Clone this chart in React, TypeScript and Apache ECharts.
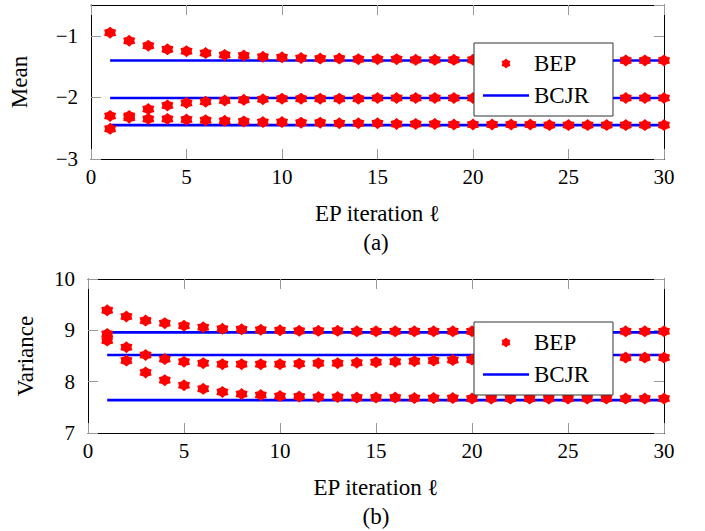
import React, { useEffect, useRef } from "react";
import * as echarts from "echarts";

// ---- data ----
const iterations = [1, 2, 3, 4, 5, 6, 7, 8, 9, 10, 11, 12, 13, 14, 15, 16, 17, 18, 19, 20, 21, 22, 23, 24, 25, 26, 27, 28, 29, 30];

const meanBepA = [-0.95, -1.08, -1.16, -1.22, -1.25, -1.28, -1.31, -1.32, -1.34, -1.35, -1.36, -1.37, -1.37, -1.38, -1.38, -1.38, -1.39, -1.39, -1.39, -1.39, -1.39, -1.39, -1.40, -1.40, -1.40, -1.40, -1.40, -1.40, -1.40, -1.40];
const meanBepB = [-2.30, -2.30, -2.19, -2.13, -2.09, -2.07, -2.05, -2.04, -2.03, -2.02, -2.02, -2.02, -2.02, -2.02, -2.01, -2.01, -2.01, -2.01, -2.01, -2.01, -2.01, -2.01, -2.01, -2.01, -2.01, -2.01, -2.01, -2.01, -2.01, -2.01];
const meanBepC = [-2.51, -2.33, -2.35, -2.35, -2.36, -2.37, -2.38, -2.39, -2.40, -2.40, -2.41, -2.41, -2.42, -2.42, -2.42, -2.43, -2.43, -2.43, -2.44, -2.44, -2.44, -2.44, -2.44, -2.45, -2.45, -2.45, -2.45, -2.45, -2.45, -2.45];
const meanBcjr = [-1.40, -2.01, -2.45];

const varBepA = [9.39, 9.27, 9.19, 9.14, 9.09, 9.06, 9.03, 9.02, 9.01, 9.00, 8.99, 8.99, 8.99, 8.98, 8.98, 8.98, 8.98, 8.98, 8.98, 8.98, 8.98, 8.98, 8.98, 8.98, 8.98, 8.98, 8.98, 8.98, 8.98, 8.98];
const varBepB = [8.93, 8.67, 8.52, 8.44, 8.39, 8.36, 8.34, 8.34, 8.34, 8.34, 8.35, 8.36, 8.36, 8.37, 8.38, 8.39, 8.40, 8.41, 8.42, 8.43, 8.44, 8.44, 8.45, 8.45, 8.46, 8.46, 8.46, 8.47, 8.47, 8.47];
const varBepC = [8.80, 8.41, 8.18, 8.03, 7.93, 7.86, 7.80, 7.76, 7.74, 7.72, 7.71, 7.70, 7.70, 7.69, 7.69, 7.69, 7.68, 7.68, 7.68, 7.67, 7.67, 7.67, 7.67, 7.67, 7.67, 7.67, 7.67, 7.67, 7.67, 7.67];
const varBcjr = [8.96, 8.52, 7.64];

const xTicks = { min: 0, max: 30, interval: 5 };
const meanTicks = { min: -3, max: -0.5, interval: 1 };
const varTicks = { min: 7, max: 10, interval: 1 };

const FONT = "Liberation Serif";

function asteriskPath(): string {
  const n = 6;
  let d = "";
  for (let i = 0; i < 2 * n; i++) {
    const a = ((-90 + (i * 180) / n) * Math.PI) / 180;
    const r = i % 2 === 0 ? 10 : 7.4;
    const x = 10 + r * Math.cos(a);
    const y = 10 + r * Math.sin(a);
    d += (i === 0 ? "M" : "L") + x.toFixed(2) + " " + y.toFixed(2) + " ";
  }
  return "path://" + d + "Z";
}

export default function App() {
  const ref = useRef<HTMLDivElement>(null);
  useEffect(() => {
    if (!ref.current) return;
    const chart = echarts.init(ref.current, undefined, { renderer: "svg" });
    const star = asteriskPath();

    const xAxis = (gridIndex: number, position: "bottom" | "top", main: boolean) => ({
      type: "value" as const,
      gridIndex,
      position,
      ...xTicks,
      axisLine: { show: true, onZero: false, lineStyle: { color: "#000", width: 1 } },
      axisTick: { show: true, inside: true, length: 10, lineStyle: { color: "#999", width: 1 } },
      axisLabel: { show: main, margin: 7, fontSize: 21, fontFamily: FONT, color: "#000" },
      splitLine: { show: false },
      name: main ? "EP iteration \u2113" : "",
      nameLocation: "middle" as const,
      nameGap: 43,
      nameTextStyle: { fontSize: 23, fontFamily: FONT, color: "#000" },
    });
    const yAxis = (gridIndex: number, position: "left" | "right", main: boolean, ticks: any, name: string, gap: number) => ({
      type: "value" as const,
      gridIndex,
      position,
      ...ticks,
      axisLine: { show: true, onZero: false, lineStyle: { color: "#000", width: 1 } },
      axisTick: { show: true, inside: true, length: 10, lineStyle: { color: "#999", width: 1 } },
      axisLabel: {
        show: main,
        margin: 13,
        fontSize: 21,
        fontFamily: FONT,
        color: "#000",
        showMaxLabel: ticks.max % 1 === 0,
        formatter: (v: number) => (v < 0 ? "\u2212" + Math.abs(v) : String(v)),
      },
      splitLine: { show: false },
      name: main ? name : "",
      nameLocation: "middle" as const,
      nameRotate: 90,
      nameGap: gap,
      nameTextStyle: { fontSize: 23, fontFamily: FONT, color: "#000" },
    });

    const bepSeries = (arr: number[], axis: number) => ({
      type: "scatter" as const,
      name: "BEP",
      xAxisIndex: axis,
      yAxisIndex: axis,
      symbol: star,
      symbolSize: 12,
      itemStyle: { color: "#ff0000", opacity: 1 },
      z: 3,
      data: iterations.map((x, i) => [x, arr[i]]),
    });
    const bcjrSeries = (v: number, axis: number) => ({
      type: "line" as const,
      name: "BCJR",
      xAxisIndex: axis,
      yAxisIndex: axis,
      symbol: "none",
      showSymbol: false,
      lineStyle: { color: "#0000ff", width: 2.6 },
      itemStyle: { color: "#0000ff" },
      z: 2,
      data: [
        [iterations[0], v],
        [iterations[iterations.length - 1], v],
      ],
    });

    const legend = (top: number) => ({
      left: 474,
      top,
      orient: "vertical" as const,
      data: [
        { name: "BEP", icon: star },
        { name: "BCJR", icon: "path://M0 0 L46 0 L46 2.6 L0 2.6 Z" },
      ],
      itemWidth: 46,
      itemHeight: 10,
      itemGap: 9,
      padding: [9, 24, 9, 9],
      borderColor: "#333",
      borderWidth: 1,
      borderRadius: 0,
      backgroundColor: "#fff",
      itemStyle: { opacity: 1 },
      textStyle: { fontSize: 23, fontFamily: FONT, color: "#000" },
      selectedMode: false,
    });

    chart.setOption({
      animation: false,
      backgroundColor: "#fff",
      textStyle: { fontFamily: FONT },
      grid: [
        { left: 88, top: 5, width: 576, height: 154 },
        { left: 88, top: 279, width: 576, height: 154 },
      ],
      xAxis: [xAxis(0, "bottom", true), xAxis(0, "top", false), xAxis(1, "bottom", true), xAxis(1, "top", false)],
      yAxis: [
        yAxis(0, "left", true, meanTicks, "Mean", 60),
        yAxis(0, "right", false, meanTicks, "", 0),
        yAxis(1, "left", true, varTicks, "Variance", 51),
        yAxis(1, "right", false, varTicks, "", 0),
      ],
      legend: [legend(43), legend(322)],
      series: [
        ...meanBcjr.map((v) => bcjrSeries(v, 0)),
        bepSeries(meanBepA, 0),
        bepSeries(meanBepB, 0),
        bepSeries(meanBepC, 0),
        ...varBcjr.map((v) => bcjrSeries(v, 2)),
        bepSeries(varBepA, 2),
        bepSeries(varBepB, 2),
        bepSeries(varBepC, 2),
      ],
      graphic: [
        { type: "text", x: 376, y: 242, style: { text: "(a)", fontSize: 23, fontFamily: FONT, fill: "#000", align: "center", verticalAlign: "middle" } },
        { type: "text", x: 376, y: 516, style: { text: "(b)", fontSize: 23, fontFamily: FONT, fill: "#000", align: "center", verticalAlign: "middle" } },
      ],
    });
    return () => chart.dispose();
  }, []);
  return <div ref={ref} style={{ position: "fixed", left: 0, top: 0, width: 705, height: 531 }} />;
}
